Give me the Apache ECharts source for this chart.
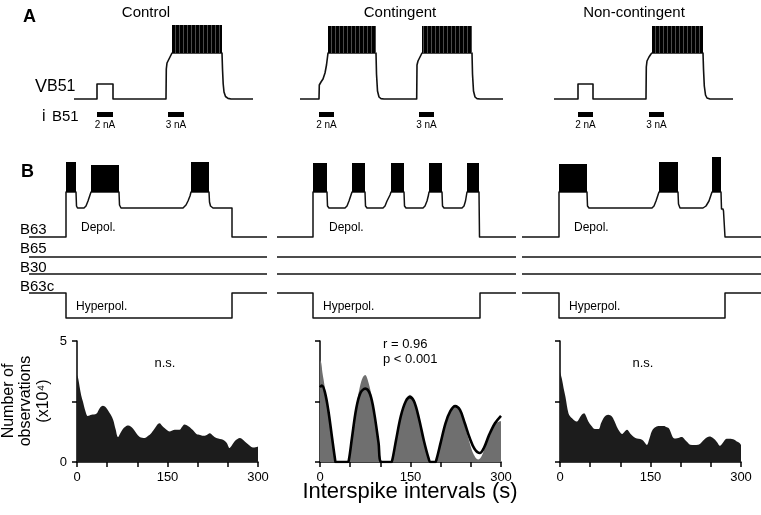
<!DOCTYPE html>
<html><head><meta charset="utf-8">
<script src="https://cdn.jsdelivr.net/npm/echarts@6/dist/echarts.min.js"></script>
<style>html,body{margin:0;padding:0;background:#fff}#c{width:761px;height:515px}</style>
</head><body><div id="c"></div>
<script>
// ================= DATA =================
const columns = ['Control', 'Contingent', 'Non-contingent'];
// Panel A: membrane potential of B51 [time, mV above rest]
const vB51_control = [[0,0],[23,0],[23,15],[39,15],[39,0],[92,0],[92.3,30],[93,36],[95,40],[97,44],[98,46],[148,46],[148.5,30],[149.2,15],[150,7],[151.5,2.5],[154,0.6],[157,0],[179,0]];
const vB51_contingent = [[0,0],[19,0],[19.3,14],[21,17],[23,20],[25,26],[26.5,34],[27.5,42],[28,46],[76,46],[76.5,25],[77.5,8],[79,2],[81,0.4],[84,0],[116.7,0],[117,34],[118,38],[120,42],[122,46],[172,46],[172.5,25],[173.5,8],[175,2],[177,0.4],[180,0],[203,0]];
const vB51_noncontingent = [[0,0],[24,0],[24,15],[39,15],[39,0],[92,0],[92.3,32],[93,38],[95,42],[97,45],[98,46],[149,46],[149.5,30],[150.3,13],[151.5,4],[153,1],[156,0],[179,0]];
// bursts of spikes in B51: [start, end, plateau, spike peak]
const burstsA_control = [[98,148,46,74]];
const burstsA_contingent = [[28,76,46,73],[122,172,46,73]];
const burstsA_noncontingent = [[98,149,46,73]];
// current pulses injected in B51: [start, end, low, high]
const iB51_control = [[23,39,-18,-13],[94,110,-18,-13]];
const iB51_contingent = [[19,34,-18,-13],[119,134,-18,-13]];
const iB51_noncontingent = [[24,39,-18,-13],[95,110,-18,-13]];
const iB51_labels = ['2 nA', '3 nA'];

// Panel B: B63 trace [time, mV]
const vB63_control = [[0,0],[37,0],[37,45],[47,45],[47.5,31],[48.5,29],[55,29],[57,31],[59,36],[61,42],[62,45],[90,45],[90.5,32],[92,29],[154,29],[157,32],[159,36],[161,41],[162,45],[180,45],[180.5,35],[181.5,31],[184,29],[203,29],[203,0],[238,0]];
const vB63_contingent = [[0,0],[36,0],[36,45],[50,45],[50.5,31],[52,29],[68,29],[70,31],[72,36],[74,42],[75,45],[88,45],[88.5,31],[90,29],[106,29],[108,31],[110,36],[113,42],[114,45],[127,45],[127.5,31],[129,29],[146,29],[148,31],[150,36],[151.5,42],[152,45],[165,45],[165.5,31],[167,29],[185,29],[187,31],[188.5,36],[189.5,42],[190,45],[202,45],[202.5,0],[239,0]];
const vB63_noncontingent = [[0,0],[37,0],[37,45],[65,45],[65.5,31],[67,29],[130,29],[132,31],[134,36],[136,42],[137,45],[156,45],[156.5,33],[158,29],[181,29],[184,31],[187,36],[189,42],[190,45],[199,45],[199.5,28],[201,28],[201.5,26],[203,0],[239,0]];
const burstsB_control = [[37,47,45,75],[62,90,45,72],[162,180,45,75]];
const burstsB_contingent = [[36,50,45,74],[75,88,45,74],[114,127,45,74],[152,165,45,74],[190,202,45,74]];
const burstsB_noncontingent = [[37,65,45,73],[137,156,45,75],[190,199,45,80]];
// B65, B30 flat traces and B63c hyperpolarization
const vB65_control = [[0,-20],[238,-20]];
const vB65_contingent = [[0,-20],[239,-20]];
const vB65_noncontingent = [[0,-20],[239,-20]];
const vB30_control = [[0,-37],[238,-37]];
const vB30_contingent = [[0,-37],[239,-37]];
const vB30_noncontingent = [[0,-37],[239,-37]];
const vB63c_control = [[0,-56],[37,-56],[37,-81],[203,-81],[203,-56],[238,-56]];
const vB63c_contingent = [[0,-56],[36,-56],[36,-81],[203,-81],[203,-56],[239,-56]];
const vB63c_noncontingent = [[0,-56],[37,-56],[37,-81],[203,-81],[203,-56],[239,-56]];

// Histograms: interspike intervals (s) vs number of observations (x10^4)
const hist_control = [[0,3.6],[2,3.45],[4.4,3.1],[7,2.75],[9.9,2.49],[14,2.1],[18,1.9],[24,1.95],[32,1.99],[37.6,2.22],[43,2.32],[48,2.25],[51,2.15],[56,1.95],[60,1.74],[64,1.35],[68,1.03],[72,1.2],[76,1.36],[80,1.46],[85,1.51],[89,1.47],[93,1.37],[98,1.2],[104,1.03],[108,1.0],[112,0.99],[118,1.08],[123,1.19],[127,1.32],[131,1.47],[134,1.57],[137,1.6],[141,1.5],[145,1.4],[150,1.3],[154,1.26],[158,1.3],[162,1.33],[166,1.33],[170,1.33],[174,1.45],[178,1.55],[182,1.52],[187,1.44],[192,1.32],[198,1.16],[204,1.12],[209,1.08],[215,1.12],[220,1.19],[225,1.1],[231,0.99],[237,0.95],[242,0.92],[248,0.8],[253,0.58],[257,0.7],[261,0.85],[266,0.95],[270,0.99],[276,0.9],[281,0.78],[285,0.7],[289,0.62],[294,0.6],[300,0.64]];
const hist_contingent = [[0,4.2],[2,4.1],[4,3.7],[6,3.4],[9,2.9],[13,2.2],[18,1.2],[23,0.4],[27,0],[45,0],[49,0.3],[54,1.2],[60,2.3],[66,3.1],[71,3.5],[75,3.6],[79,3.4],[85,2.8],[91,1.8],[97,0.7],[101,0.1],[104,0],[117,0],[121,0.3],[127,1.1],[135,2.0],[143,2.6],[149,2.78],[156,2.55],[164,1.8],[172,0.9],[180,0.15],[184,0],[190,0],[194,0.2],[201,0.9],[209,1.7],[217,2.15],[224,2.27],[232,2.1],[240,1.5],[248,0.8],[255,0.3],[262,0.1],[268,0.25],[276,0.8],[285,1.3],[292,1.6],[300,1.69]];
const fit_contingent = [[0,3.09],[3,3.16],[8,2.9],[14,2.1],[20,1.0],[25,0.1],[26,0],[46,0],[48,0.1],[53,1.0],[60,2.2],[67,2.85],[75,3.03],[83,2.8],[90,2.0],[97,0.8],[102,0],[118,0],[120,0.1],[126,0.9],[134,1.9],[142,2.5],[149,2.68],[156,2.5],[164,1.8],[172,0.9],[180,0.15],[183,0],[191,0],[193,0.1],[200,0.8],[208,1.6],[216,2.1],[224,2.31],[232,2.15],[240,1.6],[248,1.0],[256,0.55],[265,0.37],[272,0.6],[280,1.1],[290,1.6],[300,1.91]];
const hist_noncontingent = [[0,3.73],[3,3.45],[6,3.05],[9,2.7],[14,2.01],[17,1.88],[20,1.81],[24,1.72],[28,1.67],[32,1.8],[36,1.95],[40,2.01],[44,1.85],[47,1.67],[52,1.5],[58,1.36],[64,1.36],[68,1.6],[72,1.81],[76,1.92],[80,1.95],[86,1.88],[90,1.7],[94,1.47],[99,1.25],[103,1.16],[107,1.25],[111,1.33],[116,1.19],[120,1.08],[125,0.99],[130,0.96],[136,0.92],[140,0.82],[144,0.71],[148,0.95],[152,1.26],[156,1.4],[160,1.47],[166,1.49],[172,1.49],[176,1.45],[180,1.4],[184,1.2],[188,0.99],[192,0.97],[196,0.99],[202,1.03],[207,0.92],[212,0.8],[216,0.71],[222,0.7],[229,0.71],[234,0.8],[240,0.95],[244,1.02],[248,1.05],[253,1.0],[257,0.92],[261,0.8],[265,0.67],[270,0.8],[276,0.96],[281,0.96],[285,0.95],[289,0.92],[293,0.85],[297,0.8],[300,0.71]];
const histXTicks = [0, 150, 300];
const histYTicks = [0, 5];
const stats = ['n.s.', 'r = 0.96\np < 0.001', 'n.s.'];

// ================= LAYOUT / STYLE =================
const FONT = '"Liberation Sans", Arial, Helvetica, sans-serif';
const INK = '#111';
const layoutA = [
  {left:74, top:19, width:180, height:100, xmax:180},
  {left:300, top:19, width:204, height:100, xmax:204},
  {left:554, top:19, width:180, height:100, xmax:180}
];
const layoutB = [
  {left:29, top:147, width:238, height:180, xmax:238},
  {left:277, top:147, width:239, height:180, xmax:239},
  {left:522, top:147, width:239, height:180, xmax:239}
];
const layoutH = [
  {left:77, top:341, width:181, height:121},
  {left:320, top:341, width:181, height:121},
  {left:560, top:341, width:181, height:121}
];

// striped fill for the dense spikes in panel A
const pc = document.createElement('canvas');
pc.width = 4; pc.height = 4;
const pctx = pc.getContext('2d');
pctx.fillStyle = '#000'; pctx.fillRect(0,0,4,4);
pctx.fillStyle = '#4a4a4a'; pctx.fillRect(3,0,1,4);
const stripe = {image: pc, repeat: 'repeat'};

const grids = [], xAxes = [], yAxes = [], series = [];
function addTraceGrid(l, ymin, ymax) {
  grids.push({left:l.left, top:l.top, width:l.width, height:l.height, containLabel:false, outerBoundsMode:'none'});
  const gi = grids.length - 1;
  xAxes.push({gridIndex:gi, type:'value', min:0, max:l.xmax, show:false});
  yAxes.push({gridIndex:gi, type:'value', min:ymin, max:ymax, show:false});
  return gi;
}
// a recorded trace drawn as one polyline through the grid's own scales
function lineS(gi, data, w) {
  series.push({type:'custom', xAxisIndex:gi, yAxisIndex:gi, data, z:3, silent:true, animation:false,
    renderItem:(p, api) => {
      if (p.dataIndex !== 0) return null;
      const pts = data.map(d => api.coord(d));
      return {type:'polyline', shape:{points:pts}, style:{stroke:INK, lineWidth:w || 1.5, fill:null, lineJoin:'round'}};
    }});
}
function burstS(gi, data, fill) {
  series.push({type:'custom', xAxisIndex:gi, yAxisIndex:gi, data, z:5, silent:true, animation:false,
    renderItem:(p, api) => {
      const a = api.coord([api.value(0), api.value(2)]);
      const b = api.coord([api.value(1), api.value(3)]);
      return {type:'rect', shape:{x:a[0], y:b[1], width:b[0]-a[0], height:a[1]-b[1]}, style:{fill}};
    }});
}
function currentS(gi, data) {
  series.push({type:'custom', xAxisIndex:gi, yAxisIndex:gi, data, z:5, silent:true, animation:false,
    renderItem:(p, api) => {
      const a = api.coord([api.value(0), api.value(2)]);
      const b = api.coord([api.value(1), api.value(3)]);
      return {type:'group', children:[
        {type:'rect', shape:{x:a[0], y:b[1], width:b[0]-a[0], height:a[1]-b[1]}, style:{fill:'#000'}},
        {type:'text', x:(a[0]+b[0])/2, y:a[1]+3, style:{text:iB51_labels[p.dataIndex], fill:'#000',
          font:'10px ' + FONT, align:'center', verticalAlign:'top'}}
      ]};
    }});
}

const vA = [vB51_control, vB51_contingent, vB51_noncontingent];
const bA = [burstsA_control, burstsA_contingent, burstsA_noncontingent];
const iA = [iB51_control, iB51_contingent, iB51_noncontingent];
for (let k = 0; k < 3; k++) {
  const gi = addTraceGrid(layoutA[k], -20, 80);
  lineS(gi, vA[k], 1.6);
  burstS(gi, bA[k], stripe);
  currentS(gi, iA[k]);
}
const vB = [vB63_control, vB63_contingent, vB63_noncontingent];
const bB = [burstsB_control, burstsB_contingent, burstsB_noncontingent];
const b65 = [vB65_control, vB65_contingent, vB65_noncontingent];
const b30 = [vB30_control, vB30_contingent, vB30_noncontingent];
const b63c = [vB63c_control, vB63c_contingent, vB63c_noncontingent];
for (let k = 0; k < 3; k++) {
  const gi = addTraceGrid(layoutB[k], -90, 90);
  lineS(gi, vB[k], 1.5);
  lineS(gi, b65[k], 1.5);
  lineS(gi, b30[k], 1.5);
  lineS(gi, b63c[k], 1.5);
  burstS(gi, bB[k], '#000');
}
const hists = [hist_control, hist_contingent, hist_noncontingent];
for (let k = 0; k < 3; k++) {
  const l = layoutH[k];
  grids.push({left:l.left, top:l.top, width:l.width, height:l.height, containLabel:false, outerBoundsMode:'none'});
  const gi = grids.length - 1;
  const axisCommon = {axisLine:{show:true, onZero:false, lineStyle:{color:'#000', width:1.5}},
    axisTick:{show:true, inside:false, length:5, lineStyle:{color:'#000', width:1.5}},
    splitLine:{show:false}};
  xAxes.push(Object.assign({gridIndex:gi, type:'value', min:0, max:300, interval:50,
    axisLabel:{show:true, margin:9, color:'#000', fontSize:13, fontFamily:FONT,
      formatter:v => histXTicks.includes(v) ? String(v) : ''}}, axisCommon));
  yAxes.push(Object.assign({gridIndex:gi, type:'value', min:0, max:5, interval:2.5,
    axisLabel:{show:k === 0, margin:10, color:'#000', fontSize:13, fontFamily:FONT,
      formatter:v => histYTicks.includes(v) ? String(v) : ''}}, axisCommon));
  series.push({type:'line', xAxisIndex:gi, yAxisIndex:gi, data:hists[k], symbol:'none', smooth:0.35,
    silent:true, animation:false, z:2, lineStyle:{width:0},
    areaStyle:{color: k === 1 ? '#6f6f6f' : '#1c1c1c', opacity:1}, itemStyle:{color: k === 1 ? '#6f6f6f' : '#1c1c1c'}});
  if (k === 1) {
    series.push({type:'line', xAxisIndex:gi, yAxisIndex:gi, data:fit_contingent, symbol:'none', smooth:0.35,
      silent:true, animation:false, z:4, lineStyle:{color:'#000', width:2.6}});
  }
}

// ================= TEXT =================
function txt(text, x, y, size, align, extra) {
  extra = extra || {};
  return Object.assign({type:'text', x, y, z:100, silent:true, style:{text, fill:'#000',
    font:(extra.bold ? 'bold ' : '') + size + 'px ' + FONT, align:align || 'left', verticalAlign:extra.va || 'middle',
    lineHeight:extra.lh}}, extra.el || {});
}
const graphic = [
  txt('A', 23, 17, 18, 'left', {bold:true}),
  txt('B', 21, 172, 18, 'left', {bold:true}),
  txt(columns[0], 146, 13, 15, 'center'),
  txt(columns[1], 400, 13, 15, 'center'),
  txt(columns[2], 634, 13, 15, 'center'),
  txt('V', 35, 96, 18, 'left', {va:'bottom'}),
  txt('B51', 47, 95, 16, 'left', {va:'bottom'}),
  txt('i', 42, 117, 16, 'left'),
  txt('B51', 52, 117, 15, 'left'),
  txt('B63', 20, 230, 15, 'left'),
  txt('B65', 20, 249, 15, 'left'),
  txt('B30', 20, 267.5, 15, 'left'),
  txt('B63c', 20, 287, 15, 'left'),
  txt('Depol.', 81, 228, 12, 'left'),
  txt('Hyperpol.', 76, 307, 12, 'left'),
  txt('Depol.', 329, 228, 12, 'left'),
  txt('Hyperpol.', 323, 307, 12, 'left'),
  txt('Depol.', 574, 228, 12, 'left'),
  txt('Hyperpol.', 569, 307, 12, 'left'),
  txt(stats[0], 165, 363, 13, 'center'),
  txt(stats[1], 383, 352, 13, 'left', {lh:14.5}),
  txt(stats[2], 643, 363, 13, 'center'),
  txt('Interspike intervals (s)', 410, 492, 22, 'center'),
  txt('Number of\nobservations\n(x10⁴)', 26, 401, 16, 'center', {lh:17.5, el:{rotation:Math.PI/2}})
];

const chart = echarts.init(document.getElementById('c'), null, {renderer:'canvas'});
chart.setOption({animation:false, backgroundColor:'#fff', grid:grids, xAxis:xAxes, yAxis:yAxes, series, graphic});
</script>
</body></html>
